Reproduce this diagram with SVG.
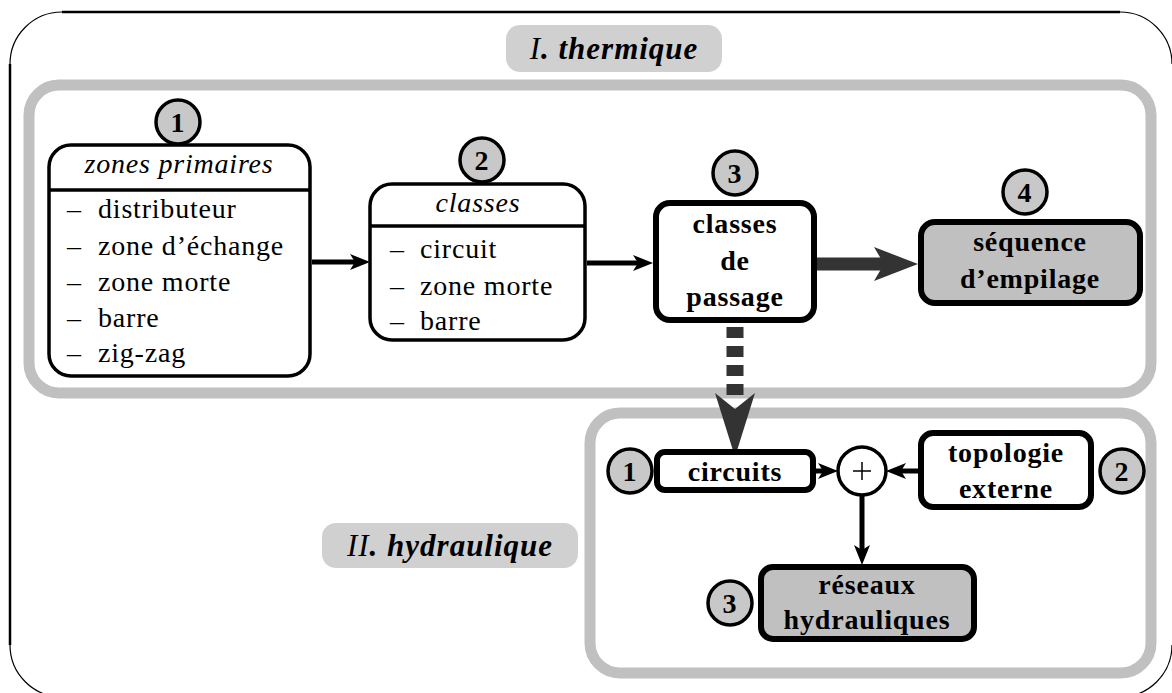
<svg xmlns="http://www.w3.org/2000/svg" width="1172" height="693" viewBox="0 0 1172 693">
<defs>
<style>
.frame{fill:none;stroke:#000;stroke-width:2.5}
.arc{fill:none;stroke:#000;stroke-width:1.2}
.group{fill:#fff;stroke:#c0c0c0;stroke-width:11}
.label{fill:#d0d0d0;stroke:none}
.box{fill:#fff;stroke:#000;stroke-width:3.5}
.thick{fill:#fff;stroke:#000;stroke-width:6}
.grey{fill:#c0c0c0;stroke:#000;stroke-width:6}
.num{fill:#c8c8c8;stroke:#000;stroke-width:3.5}
.t{font-family:"Liberation Serif","Times New Roman",serif;font-size:28px;fill:#000;letter-spacing:0.8px}
.i{font-style:italic}
.b{font-weight:bold}
.c{text-anchor:middle}
.lbl{font-family:"Liberation Serif","Times New Roman",serif;font-size:31px;fill:#000;text-anchor:middle;letter-spacing:1px}
.link{fill:none;stroke:#000;stroke-width:5}
.big{fill:none;stroke:#333;stroke-width:13}
.dash{fill:none;stroke:#333;stroke-width:17;stroke-dasharray:11 8}
.headdark{fill:#333;stroke:none}
</style>
<marker id="ah" markerUnits="userSpaceOnUse" viewBox="0 0 20 16" markerWidth="20" markerHeight="16" refX="5" refY="8" orient="auto">
<path d="M0,0 L20,8 L0,16 L5,8 z" fill="#000"/>
</marker>
<marker id="ahbig" markerUnits="userSpaceOnUse" viewBox="0 0 44 34" markerWidth="44" markerHeight="34" refX="10" refY="17" orient="auto">
<path d="M0,0 L44,17 L0,34 L10,17 z" fill="#333"/>
</marker>
</defs>

<!-- outer frame -->
<g id="frame">
<path class="frame" d="M62,12 H1120 M10,64 V645"/>
<path class="arc" d="M10,64 A52,52 0 0 1 62,12 M1120,12 A52,52 0 0 1 1172,64 M10,645 A52,52 0 0 0 62,697 M1172,645 A52,52 0 0 1 1120,697"/>
</g>

<!-- groups -->
<g id="group-thermique">
<rect class="group" x="29" y="85" width="1122" height="308" rx="30"/>
<rect class="label" x="506" y="25" width="216" height="47" rx="14"/>
<text class="lbl" x="614" y="59"><tspan font-style="italic">I</tspan><tspan font-style="italic" font-weight="bold">. thermique</tspan></text>
</g>
<g id="group-hydraulique">
<rect class="group" x="590" y="413" width="561" height="260" rx="30"/>
<rect class="label" x="322" y="523" width="256" height="45" rx="14"/>
<text class="lbl" x="450" y="556"><tspan font-style="italic">II</tspan><tspan font-style="italic" font-weight="bold">. hydraulique</tspan></text>
</g>

<!-- connectors -->
<g id="connectors">
<line class="link" x1="312" y1="262" x2="355" y2="262" marker-end="url(#ah)"/>
<line class="link" x1="587" y1="263" x2="638" y2="263" marker-end="url(#ah)"/>
<line class="big" x1="817" y1="264" x2="884" y2="264" marker-end="url(#ahbig)"/>
<line class="dash" x1="735" y1="327" x2="735" y2="397"/>
<path class="headdark" d="M715,393 L735,457 L755,393 L735,409 z"/>
<line class="link" x1="815" y1="471" x2="823" y2="471" marker-end="url(#ah)"/>
<line class="link" x1="918" y1="471" x2="901" y2="471" marker-end="url(#ah)"/>
<line class="link" x1="862" y1="495" x2="862" y2="550" marker-end="url(#ah)"/>
</g>

<!-- thermique nodes -->
<g id="zones-primaires">
<rect class="box" x="49" y="145" width="261" height="231" rx="22"/>
<line x1="49" y1="190" x2="310" y2="190" stroke="#000" stroke-width="3.5"/>
<text class="t i c" x="179" y="173">zones primaires</text>
<text class="t" x="67" y="218">–</text><text class="t" x="98" y="218">distributeur</text>
<text class="t" x="67" y="255">–</text><text class="t" x="98" y="255">zone d’échange</text>
<text class="t" x="67" y="291">–</text><text class="t" x="98" y="291">zone morte</text>
<text class="t" x="67" y="327">–</text><text class="t" x="98" y="327">barre</text>
<text class="t" x="67" y="362">–</text><text class="t" x="98" y="362">zig-zag</text>
<circle class="num" cx="178" cy="122" r="22"/>
<text class="t b c" x="178" y="132">1</text>
</g>

<g id="classes">
<rect class="box" x="370" y="184" width="215" height="156" rx="22"/>
<line x1="370" y1="226" x2="585" y2="226" stroke="#000" stroke-width="3.5"/>
<text class="t i c" x="478" y="212">classes</text>
<text class="t" x="390" y="258">–</text><text class="t" x="420" y="258">circuit</text>
<text class="t" x="390" y="295">–</text><text class="t" x="420" y="295">zone morte</text>
<text class="t" x="390" y="330">–</text><text class="t" x="420" y="330">barre</text>
<circle class="num" cx="482" cy="160" r="22"/>
<text class="t b c" x="482" y="170">2</text>
</g>

<g id="classes-de-passage">
<rect class="thick" x="656" y="203" width="158" height="117" rx="14"/>
<text class="t b c" x="735" y="233">classes</text>
<text class="t b c" x="735" y="270">de</text>
<text class="t b c" x="735" y="306">passage</text>
<circle class="num" cx="735" cy="173" r="22"/>
<text class="t b c" x="735" y="183">3</text>
</g>

<g id="sequence-empilage">
<rect class="grey" x="921" y="222" width="219" height="81" rx="14"/>
<text class="t b c" x="1030" y="251">séquence</text>
<text class="t b c" x="1030" y="288">d’empilage</text>
<circle class="num" cx="1025" cy="192" r="22"/>
<text class="t b c" x="1025" y="202">4</text>
</g>

<!-- hydraulique nodes -->
<g id="circuits">
<rect class="thick" x="657" y="452" width="156" height="38" rx="8"/>
<text class="t b c" x="735" y="481">circuits</text>
<circle class="num" cx="630" cy="471" r="22"/>
<text class="t b c" x="630" y="481">1</text>
</g>

<g id="plus">
<circle cx="862" cy="471" r="24" fill="#fff" stroke="#000" stroke-width="3.5"/>
<path d="M853,471 H871 M862,462 V480" stroke="#000" stroke-width="1.5" fill="none"/>
</g>

<g id="topologie-externe">
<rect class="thick" x="921" y="433" width="170" height="74" rx="12"/>
<text class="t b c" x="1006" y="462">topologie</text>
<text class="t b c" x="1006" y="498">externe</text>
<circle class="num" cx="1122" cy="471" r="22"/>
<text class="t b c" x="1122" y="481">2</text>
</g>

<g id="reseaux-hydrauliques">
<rect class="grey" x="761" y="567" width="213" height="72" rx="12"/>
<text class="t b c" x="867" y="594">réseaux</text>
<text class="t b c" x="867" y="629">hydrauliques</text>
<circle class="num" cx="730" cy="603" r="22"/>
<text class="t b c" x="730" y="613">3</text>
</g>
</svg>
